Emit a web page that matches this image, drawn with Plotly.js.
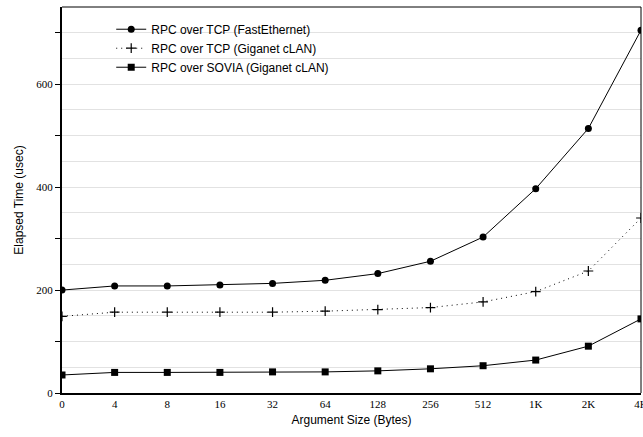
<!DOCTYPE html>
<html><head><meta charset="utf-8">
<script src="https://cdn.plot.ly/plotly-3.0.1.min.js"></script>
<style>html,body{margin:0;padding:0;background:#fff}#c{width:643px;height:437px}</style>
</head><body><div id="c"></div>
<script>
const categories = ['0','4','8','16','32','64','128','256','512','1K','2K','4K'];
const tcpFastEthernet = [200, 208, 208, 210, 213, 219, 232, 256, 303, 397, 514, 705];
const tcpGiganet = [149, 157, 157, 157, 157, 159, 162, 166, 177, 197, 237, 340];
const soviaGiganet = [35, 40, 40, 40, 41, 41, 43, 47, 53, 64, 91, 144];
const seriesNames = ['RPC over TCP (FastEthernet)', 'RPC over TCP (Giganet cLAN)', 'RPC over SOVIA (Giganet cLAN)'];
const yTickVals = [0, 100, 200, 300, 400, 500, 600, 700];
const yTickText = ['0', '', '200', '', '400', '', '600', ''];

const traces = [
  {x: categories, y: tcpFastEthernet, name: seriesNames[0], mode: 'lines+markers',
   line: {color: '#000', width: 1}, marker: {symbol: 'circle', size: 7, color: '#000'}},
  {x: categories, y: tcpGiganet, name: seriesNames[1], mode: 'lines+markers',
   line: {color: '#000', width: 1, dash: '1px,4px'}, marker: {symbol: 'cross-thin', size: 7, color: '#000', line: {color: '#000', width: 1.2}}},
  {x: categories, y: soviaGiganet, name: seriesNames[2], mode: 'lines+markers',
   line: {color: '#000', width: 1}, marker: {symbol: 'square', size: 7, color: '#000'}}
];

const layout = {
  width: 643, height: 437,
  margin: {l: 62, r: 2, t: 7, b: 44},
  paper_bgcolor: '#fff', plot_bgcolor: '#fff',
  showlegend: true,
  legend: {x: 0.085, y: 0.98, xanchor: 'left', yanchor: 'top', bgcolor: 'rgba(0,0,0,0)',
    font: {family: 'Liberation Sans, Arial, sans-serif', size: 12, color: '#000'},
    tracegroupgap: 0},
  xaxis: {type: 'category', range: [0, 11], showgrid: false, zeroline: false,
    showline: true, linecolor: '#000', linewidth: 2, mirror: false, ticks: '',
    tickfont: {family: 'Liberation Serif, Times New Roman, serif', size: 11, color: '#000'},
    title: {text: 'Argument Size (Bytes)', standoff: 6, font: {family: 'Liberation Sans, Arial, sans-serif', size: 12, color: '#000'}}},
  yaxis: {range: [0, 750], tickvals: yTickVals, ticktext: yTickText, zeroline: false,
    showline: true, linecolor: '#000', linewidth: 2, ticks: 'outside', ticklen: 5, tickcolor: '#000',
    showgrid: true, gridcolor: '#e2e2e2', gridwidth: 1,
    minor: {dtick: 50, tick0: 0, showgrid: true, gridcolor: '#e2e2e2', gridwidth: 1, ticks: ''},
    tickfont: {family: 'Liberation Serif, Times New Roman, serif', size: 11, color: '#000'},
    title: {text: 'Elapsed Time (usec)', standoff: 10, font: {family: 'Liberation Sans, Arial, sans-serif', size: 12, color: '#000'}}},
  shapes: [
    {type: 'line', xref: 'paper', yref: 'paper', x0: 0, x1: 1, y0: 1, y1: 1, line: {color: '#000', width: 1}},
    {type: 'line', xref: 'paper', yref: 'paper', x0: 1, x1: 1, y0: 0, y1: 1, line: {color: '#000', width: 1}}
  ]
};
Plotly.newPlot('c', traces, layout, {displayModeBar: false, staticPlot: true});
</script></body></html>
